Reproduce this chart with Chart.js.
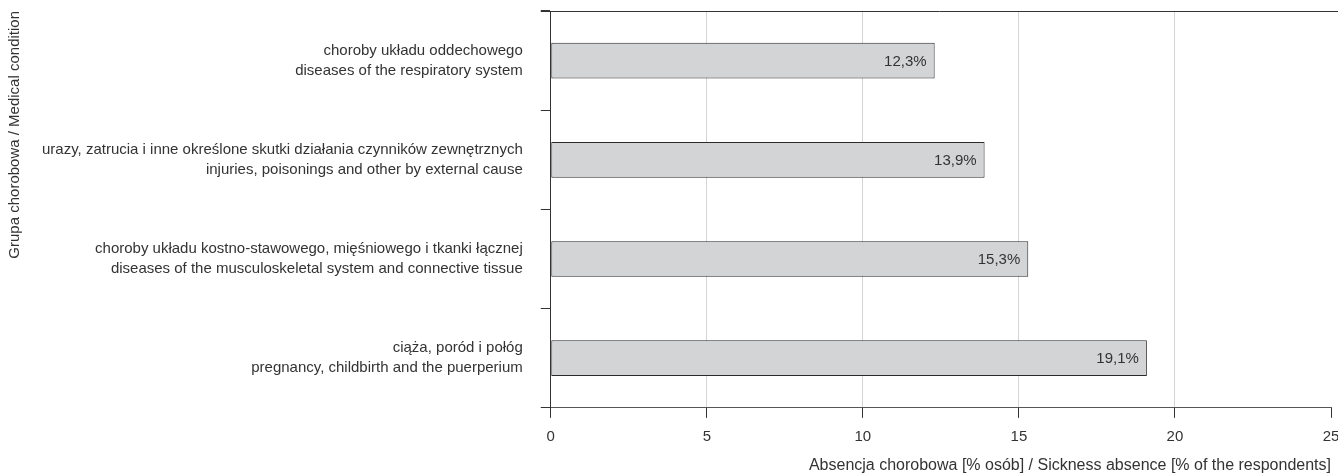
<!DOCTYPE html>
<html>
<head>
<meta charset="utf-8">
<script src="https://cdn.jsdelivr.net/npm/chart.js@4/dist/chart.umd.min.js"></script>
<style>
  html, body { margin: 0; padding: 0; background: #fff; }
  #wrap { width: 1338px; height: 475px; position: relative; }
</style>
</head>
<body>
<div id="wrap"><canvas id="myChart"></canvas></div>
<script>
var categories = [
  ['choroby układu oddechowego', 'diseases of the respiratory system'],
  ['urazy, zatrucia i inne określone skutki działania czynników zewnętrznych', 'injuries, poisonings and other by external cause'],
  ['choroby układu kostno-stawowego, mięśniowego i tkanki łącznej', 'diseases of the musculoskeletal system and connective tissue'],
  ['ciąża, poród i połóg', 'pregnancy, childbirth and the puerperium']
]
var values = [12.3, 13.9, 15.3, 19.1]
var valueLabels = ['12,3%', '13,9%', '15,3%', '19,1%']

var FONT = "'Liberation Sans Narrow', 'Arial Narrow', 'Liberation Sans', sans-serif"
var TEXT = '#333333'

// value text at the right end of each bar
const barText = {
  id: 'barText',
  afterDatasetsDraw(chart) {
    const ctx = chart.ctx
    const meta = chart.getDatasetMeta(0)
    ctx.save()
    ctx.font = '15px ' + FONT
    ctx.fillStyle = TEXT
    ctx.textAlign = 'right'
    ctx.textBaseline = 'middle'
    meta.data.forEach(function(bar, i) {
      ctx.fillText(valueLabels[i], bar.x - 8, bar.y + 1)
    })
    ctx.restore()
  }
}

// dark line on top of the plot
const topLine = {
  id: 'topLine',
  afterDraw(chart) {
    const ctx = chart.ctx
    const a = chart.chartArea
    ctx.save()
    ctx.strokeStyle = TEXT
    ctx.lineWidth = 1
    ctx.beginPath()
    ctx.moveTo(a.left - 10, a.top + 0.5)
    ctx.lineTo(chart.width, a.top + 0.5)
    ctx.stroke()
    ctx.restore()
  }
}

const config = {
  type: 'bar',
  data: {
    labels: categories,
    datasets: [{
      data: values,
      backgroundColor: '#d3d4d6',
      borderColor: '#2a2a2a',
      borderWidth: 1,
      borderSkipped: false,
      barPercentage: 0.36,
      categoryPercentage: 1
    }]
  },
  options: {
    indexAxis: 'y',
    responsive: true,
    maintainAspectRatio: false,
    animation: false,
    layout: { padding: { top: 11, right: 7, bottom: 0, left: 6 } },
    plugins: {
      legend: { display: false },
      tooltip: { enabled: false }
    },
    scales: {
      x: {
        min: 0,
        max: 25,
        ticks: { stepSize: 5, color: TEXT, font: { family: FONT, size: 15 }, padding: 10 },
        grid: {
          color: function(c) { return (c.tick && c.tick.value === 25) ? 'rgba(0,0,0,0)' : '#d4d4d4' },
          tickColor: '#333333',
          tickLength: 10
        },
        border: { color: '#555555' },
        afterFit: function(scale) { scale.paddingRight = 0; scale.paddingLeft = 0 },
        title: {
          display: true,
          align: 'end',
          text: 'Absencja chorobowa [% osób] / Sickness absence [% of the respondents]',
          color: TEXT,
          font: { family: FONT, size: 16 },
          padding: { top: 0, bottom: 0 }
        }
      },
      y: {
        ticks: { color: TEXT, font: { family: FONT, size: 15, lineHeight: 1.33 }, padding: 18 },
        grid: { drawOnChartArea: false, offset: true, tickLength: 10, color: '#333333' },
        border: { color: '#333333' },
        afterFit: function(scale) { scale.paddingTop = 0; scale.paddingBottom = 0 },
        title: {
          display: true,
          align: 'end',
          text: 'Grupa chorobowa / Medical condition',
          color: TEXT,
          font: { family: FONT, size: 15 },
          padding: { top: 0, bottom: 0 }
        }
      }
    }
  },
  plugins: [barText, topLine]
}

const myChart = new Chart(document.getElementById('myChart'), config)
</script>
</body>
</html>
